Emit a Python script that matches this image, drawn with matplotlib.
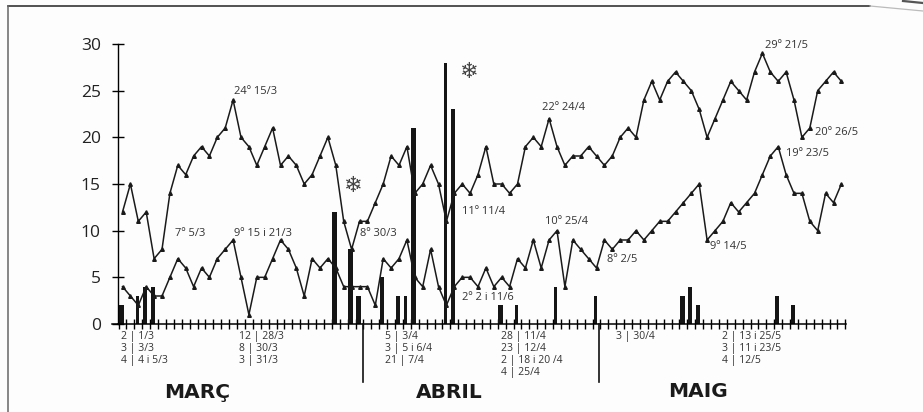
import matplotlib
matplotlib.use('Agg')
import matplotlib.pyplot as plt
from matplotlib.lines import Line2D
import numpy as np

W = 923
H = 412
plt.rcParams['font.family'] = ['Open Sans', 'DejaVu Sans']

# temperatures per day, 1/3 to 31/5
max_marc = [12,15,11,12,7,8,14,17,16,18,19,18,20,21,24,20,19,17,19,21,17,18,17,15,16,18,20,17,11,8,11]
max_abril = [11,13,15,18,17,19,14,15,17,15,11,14,15,14,16,19,15,15,14,15,19,20,19,22,19,17,18,18,19,18]
max_maig = [17,18,20,21,20,24,26,24,26,27,26,25,23,20,22,24,26,25,24,27,29,27,26,27,24,20,21,25,26,27,26]
min_marc = [4,3,2,4,3,3,5,7,6,4,6,5,7,8,9,5,1,5,5,7,9,8,6,3,7,6,7,6,4,4,4]
min_abril = [4,2,7,6,7,9,5,4,8,4,2,4,5,5,4,6,4,5,4,7,6,9,6,9,10,4,9,8,7,6]
min_maig = [9,8,9,9,10,9,10,11,11,12,13,14,15,9,10,11,13,12,13,14,16,18,19,16,14,14,11,10,14,13,15]

# rain: day index counted from 1/3, and litres
rain_days = [0,2,3,4,27,29,30,33,35,36,37,41,42,48,50,55,60,71,72,73,83,85]
rain_vals = [2,3,4,4,12,8,3,5,3,3,21,28,23,2,2,4,3,3,4,2,3,2]
thin_days = [2,36,41,50,55,60]

y_ticks = [0,5,10,15,20,25,30]

notes = [('24º 15/3',234,91),('7º 5/3',175,233),('9º 15 i 21/3',234,233),('8º 30/3',360,233),
         ('11º 11/4',462,211),('2º 2 i 11/6',462,297),('22º 24/4',542,108),('10º 25/4',545,221),
         ('8º 2/5',607,259),('9º 14/5',710,247),('29º 21/5',765,45),('20º 26/5',815,132),('19º 23/5',786,154)]
rain_text = [(121,['2 | 1/3','3 | 3/3','4 | 4 i 5/3']),
             (239,['12 | 28/3','8 | 30/3','3 | 31/3']),
             (385,['5 | 3/4','3 | 5 i 6/4','21 | 7/4']),
             (501,['28 | 11/4','23 | 12/4','2 | 18 i 20 /4','4 | 25/4']),
             (616,['3 | 30/4']),
             (722,['2 | 13 i 25/5','3 | 11 i 23/5','4 | 12/5'])]
months = [('MARÇ',197,398),('ABRIL',449,398),('MAIG',698,397)]

def fx(x):
    return x/W
def fy(y):
    return 1-y/H

fig = plt.figure(figsize=(W/100,H/100),dpi=100,facecolor='#fdfdfd')
ax = fig.add_axes([fx(117.5),fy(324),(846-117.5)/W,(324-44)/H])
ax.patch.set_alpha(0)

px = 7.9
x0 = (117.5-122.5)/px
ax.set_xlim(x0,x0+(846-117.5)/px)
ax.set_ylim(0,30)

tmax = max_marc+max_abril+max_maig
tmin = min_marc+min_abril+min_maig
days = np.arange(len(tmax))
widths = [0.36 if d in thin_days else 0.58 for d in rain_days]
ax.bar(np.array(rain_days)-0.15,rain_vals,width=widths,color='#151515',zorder=2)
ax.plot(days,tmax,color='#1a1a1a',lw=1.1,marker='^',ms=2.6,zorder=3)
ax.plot(days,tmin,color='#1a1a1a',lw=1.1,marker='^',ms=2.6,zorder=3)

for s in ['top','right']:
    ax.spines[s].set_visible(False)
ax.spines['left'].set_linewidth(1.0)
ax.spines['bottom'].set_linewidth(1.1)
ax.set_yticks(y_ticks)
ax.tick_params(axis='y',direction='inout',length=9,width=1.0,pad=7.5,labelsize=12.5,labelcolor='#222222')
ax.set_xticks(np.arange(len(tmax)+1)-0.5)
ax.set_xticklabels([])
ax.tick_params(axis='x',direction='inout',length=7,width=1.0)

# baseline sticks out a little left of the y axis
fig.add_artist(Line2D([fx(112),fx(118)],[fy(324),fy(324)],color='k',lw=1.1))

for t,x,y in notes:
    fig.text(fx(x),fy(y),t,fontsize=8,color='#333333',va='center')
for x,lines in rain_text:
    for i,t in enumerate(lines):
        fig.text(fx(x),fy(337+12*i),t,fontsize=7.5,color='#333333',va='center')
for t,x,y in months:
    fig.text(fx(x),fy(y),t,fontsize=14.5,fontweight='bold',color='#1a1a1a',ha='center',va='baseline',family='DejaVu Sans')
for x,y in [(352,186),(468,72)]:
    fig.text(fx(x),fy(y),'\u2744',fontsize=16,color='#444444',ha='center',va='center',family='DejaVu Sans')

# month separators
for x in [363,599]:
    fig.add_artist(Line2D([fx(x),fx(x)],[fy(324),fy(382)],color='#111111',lw=1.2))

# scanned frame
fig.add_artist(Line2D([fx(8),fx(870)],[fy(6),fy(6)],color='#222222',lw=1.1))
fig.add_artist(Line2D([fx(870),fx(923)],[fy(6),fy(11)],color='#bbbbbb',lw=0.9))
fig.add_artist(Line2D([fx(8),fx(8)],[fy(6),fy(412)],color='#666666',lw=1.1))
fig.add_artist(Line2D([fx(903),fx(923)],[fy(1),fy(3)],color='#555555',lw=1.6))

fig.savefig('out.png',dpi=100,facecolor=fig.get_facecolor())
